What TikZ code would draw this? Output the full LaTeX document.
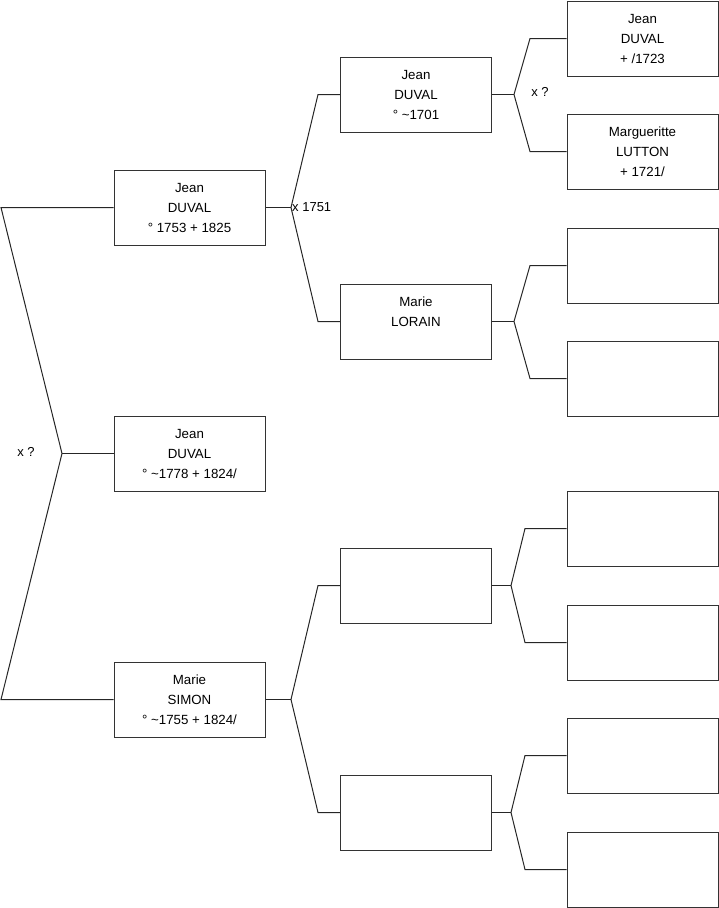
\documentclass[tikz,border=0pt]{standalone}
\usepackage{fontspec}
\setmainfont{Liberation Sans}
\usetikzlibrary{positioning}

\begin{document}
\begin{tikzpicture}[x=1pt, y=-1pt,
    pers/.style={draw=black!80, line width=1pt, minimum width=151pt, minimum height=75pt,
      inner sep=0pt, align=center, font=\fontsize{13.3}{20}\selectfont},
    ed/.style={-, line width=1pt, black!85},
    lbl/.style={font=\fontsize{13}{14}\selectfont, inner sep=1pt}
  ]
    \useasboundingbox (0,0) rectangle (719,908);
    % child and parents
    \node[pers] (fa)  at (189.5,207.5) {Jean\\DUVAL\\° 1753 + 1825};
    \node[pers] (ego) at (189.5,453.5) {Jean\\DUVAL\\° \textasciitilde1778 + 1824/};
    \node[pers] (mo)  at (189.5,699.5) {Marie\\SIMON\\° \textasciitilde1755 + 1824/};
    % grandparents
    \node[pers] (ff) at (416,94.5)  {Jean\\DUVAL\\° \textasciitilde1701};
    \node[pers] (fm) at (416,321.5) {Marie\\LORAIN\\\mbox{}};
    \node[pers] (mf) at (416,585.5) {};
    \node[pers] (mm) at (416,812.5) {};
    % great-grandparents
    \node[pers] (fff) at (642.5,38.5)  {Jean\\DUVAL\\+ /1723};
    \node[pers] (ffm) at (642.5,151.5) {Margueritte\\LUTTON\\+ 1721/};
    \node[pers] (fmf) at (642.5,265.5) {};
    \node[pers] (fmm) at (642.5,378.5) {};
    \node[pers] (mff) at (642.5,528.5) {};
    \node[pers] (mfm) at (642.5,642.5) {};
    \node[pers] (mmf) at (642.5,755.5) {};
    \node[pers] (mmm) at (642.5,869.5) {};

    % fork points
    \coordinate (k0) at (62,453.5);  \coordinate (k0a) at (1,207.5);  \coordinate (k0b) at (1,699.5);
    \coordinate (k1) at (291,207.5); \coordinate (k1a) at (318,94.5);  \coordinate (k1b) at (318,321.5);
    \coordinate (k2) at (291,699.5); \coordinate (k2a) at (318,585.5); \coordinate (k2b) at (318,812.5);
    \coordinate (k3) at (514,94.5);  \coordinate (k3a) at (530,38.5);  \coordinate (k3b) at (530,151.5);
    \coordinate (k4) at (514,321.5); \coordinate (k4a) at (530,265.5); \coordinate (k4b) at (530,378.5);
    \coordinate (k5) at (511,585.5); \coordinate (k5a) at (525,528.5); \coordinate (k5b) at (525,642.5);
    \coordinate (k6) at (511,812.5); \coordinate (k6a) at (525,755.5); \coordinate (k6b) at (525,869.5);

    \draw[ed] (fa.west) -- (k0a) -- (k0) -- (k0b) -- (mo.west); \draw[ed] (k0) -- (ego.west);
    \draw[ed] (fa.east) -- (k1); \draw[ed] (ff.west) -- (k1a) -- (k1) -- (k1b) -- (fm.west);
    \draw[ed] (mo.east) -- (k2); \draw[ed] (mf.west) -- (k2a) -- (k2) -- (k2b) -- (mm.west);
    \draw[ed] (ff.east) -- (k3); \draw[ed] (fff.west) -- (k3a) -- (k3) -- (k3b) -- (ffm.west);
    \draw[ed] (fm.east) -- (k4); \draw[ed] (fmf.west) -- (k4a) -- (k4) -- (k4b) -- (fmm.west);
    \draw[ed] (mf.east) -- (k5); \draw[ed] (mff.west) -- (k5a) -- (k5) -- (k5b) -- (mfm.west);
    \draw[ed] (mm.east) -- (k6); \draw[ed] (mmf.west) -- (k6a) -- (k6) -- (k6b) -- (mmm.west);

    % marriages
    \node[lbl] (m0) at (26,452) {x ?};
    \node[lbl, anchor=west] (m1) at (k1) {x 1751};
    \node[lbl] (m3) at (540,92) {x ?};
  \end{tikzpicture}
\end{document}
